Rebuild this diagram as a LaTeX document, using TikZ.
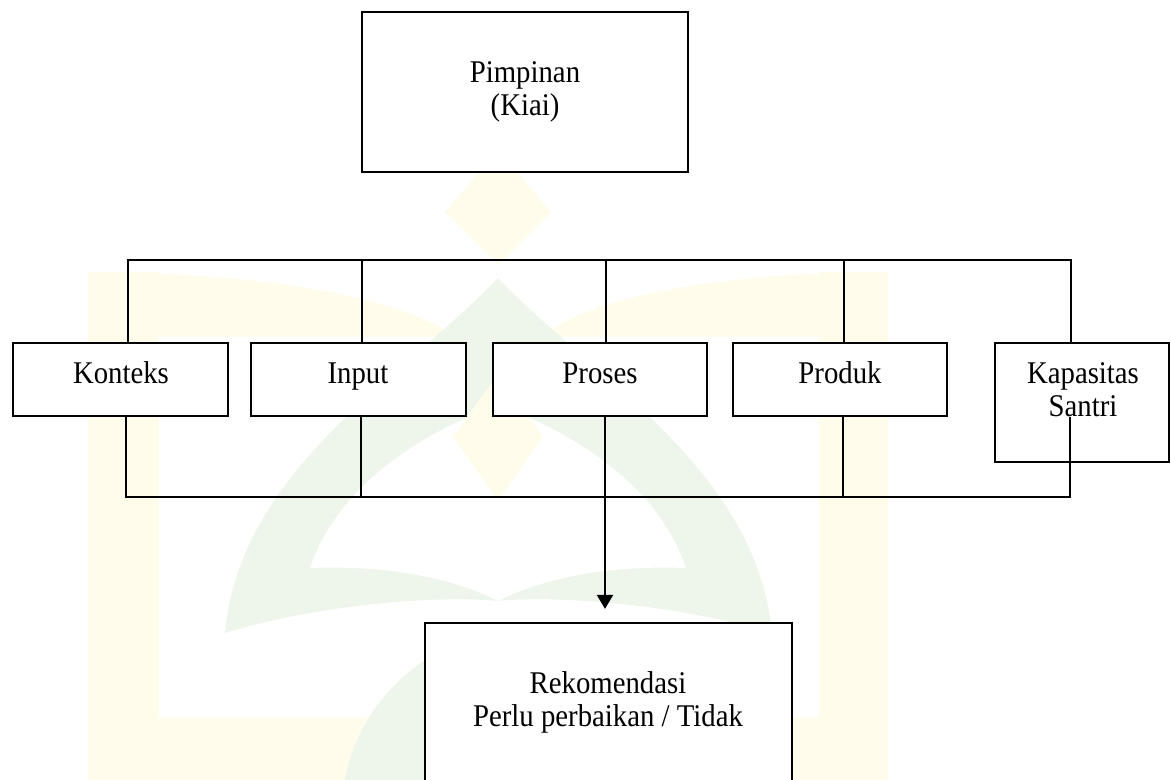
\documentclass[tikz,border=0pt]{standalone}
\usepackage{fontspec}
\setmainfont{Liberation Serif}[FakeStretch=0.91]
\usetikzlibrary{arrows.meta}
\definecolor{wmyellow}{RGB}{255,252,235}
\definecolor{wmgreen}{RGB}{238,246,236}
\begin{document}
\begin{tikzpicture}[x=0.5pt,y=-0.5pt,
  box/.style 2 args={draw=black,line width=1.1pt,fill=white,inner sep=0pt,
    minimum width=#1*0.5pt,minimum height=#2*0.5pt},
  txt/.style={anchor=base,inner sep=0pt,font=\fontsize{15.8}{16.5}\selectfont},
  conn/.style={draw=black,line width=1pt}]
\useasboundingbox (0,0) rectangle (1171,780);
\clip (0,0) rectangle (1171,780);
% ---- faint watermark ----
\fill[wmyellow] (88,272) rectangle (159,780);
\fill[wmyellow] (819,272) rectangle (888,780);
\fill[wmyellow] (88,717) rectangle (888,780);
\fill[wmyellow] (88,272) .. controls (250,272) and (400,295) .. (455,337) -- (88,337) -- cycle;
\fill[wmyellow] (888,272) .. controls (730,272) and (590,295) .. (542,337) -- (888,337) -- cycle;
\fill[wmyellow] (498,150) -- (551,212) -- (498,265) -- (445,212) -- cycle;
\fill[wmgreen] (225,633) .. controls (240,470) and (400,380) .. (498,278)
  .. controls (596,380) and (756,470) .. (772,633)
  .. controls (680,605) and (560,595) .. (498,601)
  .. controls (436,595) and (316,605) .. (225,633) -- cycle;
\fill[white] (310,568) .. controls (340,480) and (430,430) .. (498,405)
  .. controls (566,430) and (656,480) .. (686,568)
  .. controls (600,565) and (540,580) .. (498,601)
  .. controls (456,580) and (396,565) .. (310,568) -- cycle;
\fill[wmyellow] (498,374) -- (543,437) -- (498,500) -- (453,437) -- cycle;
\fill[wmgreen] (345,780) .. controls (360,700) and (420,650) .. (498,625)
  .. controls (576,650) and (636,700) .. (651,780) -- cycle;
% ---- boxes ----
\node[box={326}{160}] (pim) at (525,92) {};
\node[txt] (pimT) at (525,83) {\begin{tabular}[t]{@{}c@{}}Pimpinan\\(Kiai)\end{tabular}};
\node[box={215}{73}] (kon) at (120.5,379.5) {};
\node[txt] (konT) at (121,383) {Konteks};
\node[box={215}{73}] (inp) at (358.5,379.5) {};
\node[txt] (inpT) at (358,383) {Input};
\node[box={214.5}{73}] (pro) at (600,379.5) {};
\node[txt] (proT) at (600,383) {Proses};
\node[box={214}{73}] (prd) at (840,379.5) {};
\node[txt] (prdT) at (840,383) {Produk};
\node[box={174}{119}] (kap) at (1082,402.5) {};
\node[txt] (kapT) at (1083,383) {\begin{tabular}[t]{@{}c@{}}Kapasitas\\Santri\end{tabular}};
\node[box={367}{180}] (rek) at (608.5,713) {};
\node[txt] (rekT) at (608,693) {\begin{tabular}[t]{@{}c@{}}Rekomendasi\\Perlu perbaikan / Tidak\end{tabular}};
% ---- upper bus ----
\coordinate (t1) at (128,260);
\coordinate (t2) at (362,260);
\coordinate (t3) at (606,260);
\coordinate (t4) at (844,260);
\coordinate (t5) at (1071,260);
\draw[conn] (kon.north -| t1) -- (t1) -- (t5) -- (kap.north -| t5);
\draw[conn] (t2) -- (inp.north -| t2);
\draw[conn] (t3) -- (pro.north -| t3);
\draw[conn] (t4) -- (prd.north -| t4);
% ---- lower bus ----
\coordinate (u1) at (126,497);
\coordinate (u2) at (361,497);
\coordinate (u3) at (605,497);
\coordinate (u4) at (843,497);
\coordinate (u5) at (1070,497);
\draw[conn] (kon.south -| u1) -- (u1) -- (u5) -- (kon.south -| u5);
\draw[conn] (inp.south -| u2) -- (u2);
\draw[conn] (prd.south -| u4) -- (u4);
\draw[conn,-{Triangle[width=8pt,length=7pt]},shorten >=6.5pt] (pro.south -| u3) -- (rek.north -| u3);
\end{tikzpicture}
\end{document}
